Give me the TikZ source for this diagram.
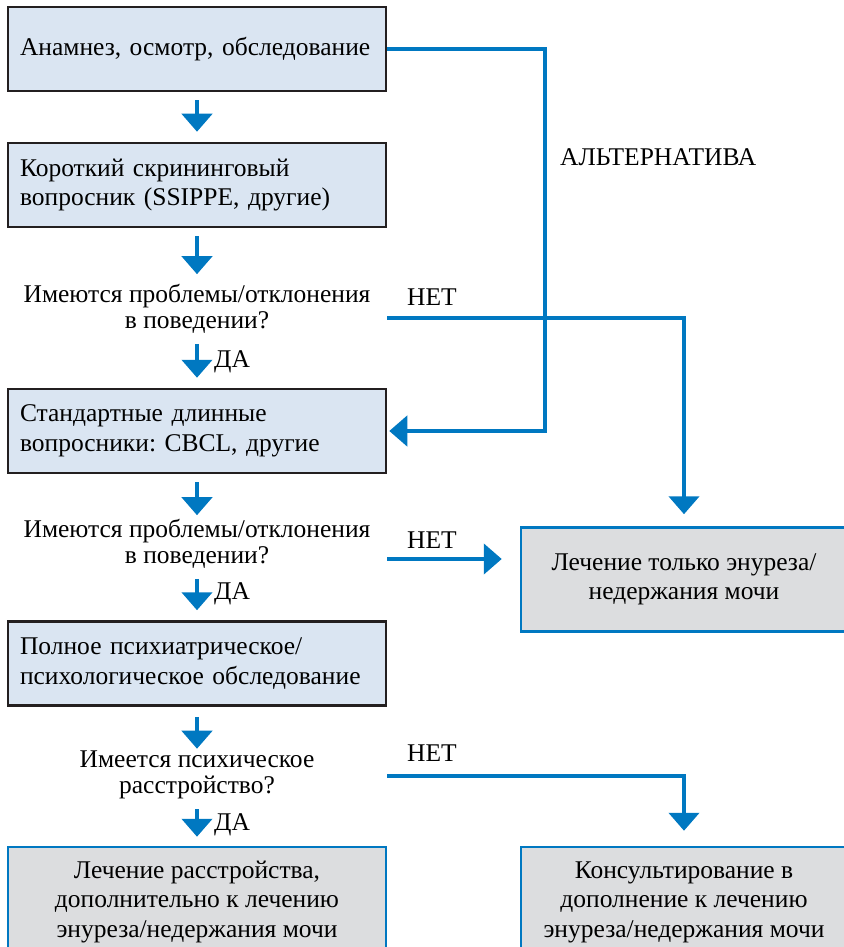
\documentclass[tikz,border=0pt]{standalone}
\usepackage{fontspec}
\setmainfont{Liberation Serif}
\frenchspacing
\usetikzlibrary{arrows.meta, positioning}
\definecolor{flowblue}{RGB}{0,120,193}
\definecolor{boxblue}{RGB}{218,229,242}
\definecolor{boxgray}{RGB}{220,221,223}
\definecolor{boxedge}{RGB}{35,31,32}
\tikzset{
  stepbox/.style={draw=boxedge, line width=2.5pt, fill=boxblue, minimum width=378pt,
    minimum height=84pt, text width=354pt, align=left, inner xsep=12pt,
    font=\fontsize{25.5}{29.5}\selectfont},
  endbox/.style={draw=flowblue, line width=2.5pt, fill=boxgray, minimum height=110pt,
    align=center, font=\fontsize{25.5}{29.5}\selectfont},
  ask/.style={minimum width=380pt, inner sep=0pt, align=center,
    font=\fontsize{25.5}{26}\selectfont},
  tag/.style={inner sep=0pt, font=\fontsize{25.5}{26}\selectfont},
  flow/.style={flowblue, line width=4.5pt},
  flowarrow/.style={flow, -{Triangle[width=30pt,length=18pt]}}
}
\begin{document}
\begin{tikzpicture}[x=1pt, y=-1pt]
\useasboundingbox (0,0) rectangle (843,947);
%left column
\node [stepbox] (exam) at (197,49) {Анамнез, осмотр, обследование};
\node [stepbox] (short) at (197,185) {Короткий скрининговый\\вопросник (SSIPPE, другие)};
\node [ask] (askone) at (197,309) {Имеются проблемы/отклонения\\в поведении?};
\node [stepbox] (long) at (197,431) {Стандартные длинные\\вопросники: CBCL, другие};
\node [ask] (asktwo) at (197,544) {Имеются проблемы/отклонения\\в поведении?};
\node [stepbox] (full) at (197,663.5) {Полное психиатрическое/\\психологическое обследование};
\node [ask] (askthree) at (197,775) {Имеется психическое\\расстройство?};
\node [endbox, minimum width=378pt] (treat) at (197,902) {Лечение расстройства,\\дополнительно к лечению\\энуреза/недержания мочи};
%right column
\node [endbox, minimum width=326pt, minimum height=104pt] (only) at (684,579.5) {Лечение только энуреза/\\недержания мочи};
\node [endbox, minimum width=326pt] (advice) at (684,902) {Консультирование в\\дополнение к лечению\\энуреза/недержания мочи};

%the main line
\draw [flowarrow, shorten <=8pt, shorten >=10pt] (exam) -- (short);
\draw [flowarrow, shorten <=8pt, shorten >=10pt] (short) -- (askone);
\draw [flowarrow, shorten <=10pt, shorten >=10pt] (askone) -- (long);
\node [tag, anchor=west] (yesone) at (214,362) {ДА};
\draw [flowarrow, shorten <=8pt, shorten >=4pt] (long) -- (asktwo);
\draw [flowarrow, shorten <=10pt, shorten >=10pt] (asktwo) -- (full);
\node [tag, anchor=west] (yestwo) at (214,594) {ДА};
\draw [flowarrow, shorten <=10pt, shorten >=2pt] (full) -- (askthree);
\draw [flowarrow, shorten <=10pt, shorten >=9pt] (askthree) -- (treat);
\node [tag, anchor=west] (yesthree) at (214,825) {ДА};

%the alternative
\coordinate (altcorner) at (545,49);
\draw [flowarrow, shorten >=2pt] (exam.east) -- (altcorner) |- (long.east);
\node [tag, anchor=west] (alt) at (560,157) {АЛЬТЕРНАТИВА};

%the no branches
\draw [flowarrow, shorten >=12pt] ([yshift=-9pt]askone.east) -| (only.north);
\node [tag] (noone) at (432,297) {НЕТ};
\draw [flowarrow, shorten >=18pt] ([yshift=-15pt]asktwo.east) -- ([yshift=-15pt]asktwo.east -| only.west);
\node [tag] (notwo) at (432,540) {НЕТ};
\draw [flowarrow, shorten >=15pt] ([yshift=-1pt]askthree.east) -| (advice.north);
\node [tag] (nothree) at (432,753) {НЕТ};
\end{tikzpicture}
\end{document}
